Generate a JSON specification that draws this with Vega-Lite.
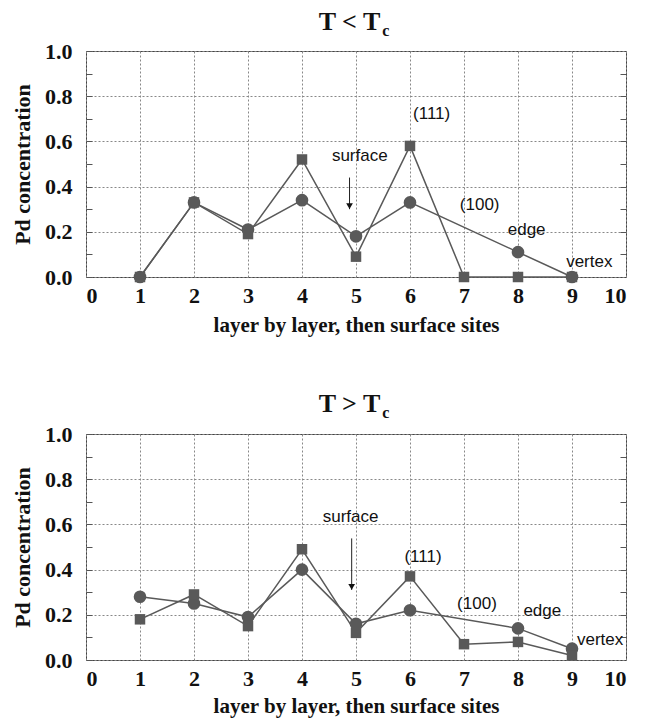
{
  "$schema": "https://vega.github.io/schema/vega-lite/v6.json",
  "background": "white",
  "padding": {"left": 11, "top": 8, "right": 5, "bottom": 5},
  "config": {
    "view": {"stroke": "#444", "strokeWidth": 1},
    "axis": {"domain": false}
  },
  "datasets": {
    "top": [
      {"series": "circle", "x": 1, "y": 0.0},
      {"series": "circle", "x": 2, "y": 0.33},
      {"series": "circle", "x": 3, "y": 0.21},
      {"series": "circle", "x": 4, "y": 0.34},
      {"series": "circle", "x": 5, "y": 0.18},
      {"series": "circle", "x": 6, "y": 0.33},
      {"series": "circle", "x": 8, "y": 0.11},
      {"series": "circle", "x": 9, "y": 0.0},
      {"series": "square", "x": 1, "y": 0.0},
      {"series": "square", "x": 2, "y": 0.33},
      {"series": "square", "x": 3, "y": 0.19},
      {"series": "square", "x": 4, "y": 0.52},
      {"series": "square", "x": 5, "y": 0.09},
      {"series": "square", "x": 6, "y": 0.58},
      {"series": "square", "x": 7, "y": 0.0},
      {"series": "square", "x": 8, "y": 0.0},
      {"series": "square", "x": 9, "y": 0.0}
    ],
    "bottom": [
      {"series": "circle", "x": 1, "y": 0.28},
      {"series": "circle", "x": 2, "y": 0.25},
      {"series": "circle", "x": 3, "y": 0.19},
      {"series": "circle", "x": 4, "y": 0.40},
      {"series": "circle", "x": 5, "y": 0.16},
      {"series": "circle", "x": 6, "y": 0.22},
      {"series": "circle", "x": 8, "y": 0.14},
      {"series": "circle", "x": 9, "y": 0.05},
      {"series": "square", "x": 1, "y": 0.18},
      {"series": "square", "x": 2, "y": 0.29},
      {"series": "square", "x": 3, "y": 0.15},
      {"series": "square", "x": 4, "y": 0.49},
      {"series": "square", "x": 5, "y": 0.12},
      {"series": "square", "x": 6, "y": 0.37},
      {"series": "square", "x": 7, "y": 0.07},
      {"series": "square", "x": 8, "y": 0.08},
      {"series": "square", "x": 9, "y": 0.02}
    ],
    "topNotes": [
      {"label": "(111)", "x": 6.4, "y": 0.72},
      {"label": "surface", "x": 5.07, "y": 0.535},
      {"label": "(100)", "x": 7.29, "y": 0.32},
      {"label": "edge", "x": 8.16, "y": 0.21},
      {"label": "vertex", "x": 9.32, "y": 0.066}
    ],
    "bottomNotes": [
      {"label": "surface", "x": 4.9, "y": 0.634},
      {"label": "(111)", "x": 6.24, "y": 0.457},
      {"label": "(100)", "x": 7.24, "y": 0.25},
      {"label": "edge", "x": 8.45, "y": 0.217},
      {"label": "vertex", "x": 9.52, "y": 0.088}
    ],
    "topArrow": [{"x": 4.88, "y": 0.44, "y2": 0.30}],
    "bottomArrow": [{"x": 4.92, "y": 0.538, "y2": 0.31}],
    "topTitle": [{"main": "T < T", "sub": "c", "x": 5.45, "y": 1.094, "ys": 1.066}],
    "bottomTitle": [{"main": "T > T", "sub": "c", "x": 5.45, "y": 1.099, "ys": 1.071}]
  },
  "spacing": 54,
  "vconcat": [
    {
      "width": 540,
      "height": 226,
      "resolve": {"axis": {"y": "independent"}},
      "layer": [
        {
          "data": {"name": "top"},
          "mark": {"type": "line", "color": "#595959", "strokeWidth": 1.5},
          "encoding": {
            "x": {"field": "x", "type": "quantitative", "scale": {"domain": [0, 10], "nice": false},
              "axis": {"values": [0,1,2,3,4,5,6,7,8,9,10], "ticks": false, "labelPadding": 8,
                "labelFont": "Liberation Serif", "labelFontWeight": "bold", "labelFontSize": 22, "labelColor": "#111",
                "grid": true, "gridColor": "#888", "gridDash": [2, 2], "gridWidth": 1,
                "title": "layer by layer, then surface sites", "titleFont": "Liberation Serif", "titleFontWeight": "bold", "titleFontSize": 21, "titleColor": "#111", "titlePadding": 8}},
            "y": {"field": "y", "type": "quantitative", "scale": {"domain": [0, 1], "nice": false},
              "axis": {"values": [0,0.1,0.2,0.3,0.4,0.5,0.6,0.7,0.8,0.9,1.0],
                "labelExpr": "round(datum.value*10) % 2 == 0 ? format(datum.value, '.1f') : ''",
                "labelFont": "Liberation Serif", "labelFontWeight": "bold", "labelFontSize": 22, "labelColor": "#111", "labelPadding": 20,
                "ticks": true, "tickSize": -6, "tickColor": "#555",
                "grid": true, "gridColor": "#888", "gridDash": [2, 2], "gridWidth": 1,
                "gridOpacity": {"condition": {"test": "round(datum.value*10) % 2 == 0", "value": 1}, "value": 0},
                "title": "Pd concentration", "titleFont": "Liberation Serif", "titleFontWeight": "bold", "titleFontSize": 22, "titleColor": "#111", "titlePadding": 10}},
            "detail": {"field": "series", "type": "nominal"},
            "order": {"field": "x", "type": "quantitative"}
          }
        },
        {
          "data": {"name": "top"},
          "mark": {"type": "point", "filled": true, "color": "#595959", "opacity": 1},
          "encoding": {
            "x": {"field": "x", "type": "quantitative"},
            "y": {"field": "y", "type": "quantitative",
              "axis": {"orient": "right", "values": [0.1,0.2,0.3,0.4,0.5,0.6,0.7,0.8,0.9], "labels": false, "grid": false, "title": null,
                "ticks": true, "tickSize": -6, "tickColor": "#555"}},
            "shape": {"field": "series", "type": "nominal", "scale": {"domain": ["circle", "square"], "range": ["circle", "square"]}, "legend": null},
            "size": {"field": "series", "type": "nominal", "scale": {"domain": ["circle", "square"], "range": [160, 110]}, "legend": null}
          }
        },
        {
          "data": {"name": "topNotes"},
          "mark": {"type": "text", "font": "Liberation Sans", "fontSize": 17, "color": "#111", "align": "center", "baseline": "middle"},
          "encoding": {
            "x": {"field": "x", "type": "quantitative"},
            "y": {"field": "y", "type": "quantitative", "axis": null},
            "text": {"field": "label"}
          }
        },
        {
          "data": {"name": "topArrow"},
          "mark": {"type": "rule", "color": "#222", "strokeWidth": 1},
          "encoding": {
            "x": {"field": "x", "type": "quantitative"},
            "y": {"field": "y", "type": "quantitative", "axis": null},
            "y2": {"field": "y2"}
          }
        },
        {
          "data": {"name": "topArrow"},
          "mark": {"type": "point", "shape": "triangle-down", "filled": true, "color": "#111", "size": 45, "opacity": 1, "yOffset": -3},
          "encoding": {
            "x": {"field": "x", "type": "quantitative"},
            "y": {"field": "y2", "type": "quantitative", "axis": null}
          }
        },
        {
          "data": {"name": "topTitle"},
          "mark": {"type": "text", "font": "Liberation Serif", "fontWeight": "bold", "fontSize": 26, "color": "#111", "align": "right", "baseline": "alphabetic"},
          "encoding": {
            "x": {"field": "x", "type": "quantitative"},
            "y": {"field": "y", "type": "quantitative", "axis": null},
            "text": {"field": "main"}
          }
        },
        {
          "data": {"name": "topTitle"},
          "mark": {"type": "text", "font": "Liberation Serif", "fontWeight": "bold", "fontSize": 16, "color": "#111", "align": "left", "baseline": "alphabetic", "dx": 2},
          "encoding": {
            "x": {"field": "x", "type": "quantitative"},
            "y": {"field": "ys", "type": "quantitative", "axis": null},
            "text": {"field": "sub"}
          }
        }
      ]
    },
    {
      "width": 540,
      "height": 226,
      "resolve": {"axis": {"y": "independent"}},
      "layer": [
        {
          "data": {"name": "bottom"},
          "mark": {"type": "line", "color": "#595959", "strokeWidth": 1.5},
          "encoding": {
            "x": {"field": "x", "type": "quantitative", "scale": {"domain": [0, 10], "nice": false},
              "axis": {"values": [0,1,2,3,4,5,6,7,8,9,10], "ticks": false, "labelPadding": 8,
                "labelFont": "Liberation Serif", "labelFontWeight": "bold", "labelFontSize": 22, "labelColor": "#111",
                "grid": true, "gridColor": "#888", "gridDash": [2, 2], "gridWidth": 1,
                "title": "layer by layer, then surface sites", "titleFont": "Liberation Serif", "titleFontWeight": "bold", "titleFontSize": 21, "titleColor": "#111", "titlePadding": 6}},
            "y": {"field": "y", "type": "quantitative", "scale": {"domain": [0, 1], "nice": false},
              "axis": {"values": [0,0.1,0.2,0.3,0.4,0.5,0.6,0.7,0.8,0.9,1.0],
                "labelExpr": "round(datum.value*10) % 2 == 0 ? format(datum.value, '.1f') : ''",
                "labelFont": "Liberation Serif", "labelFontWeight": "bold", "labelFontSize": 22, "labelColor": "#111", "labelPadding": 20,
                "ticks": true, "tickSize": -6, "tickColor": "#555",
                "grid": true, "gridColor": "#888", "gridDash": [2, 2], "gridWidth": 1,
                "gridOpacity": {"condition": {"test": "round(datum.value*10) % 2 == 0", "value": 1}, "value": 0},
                "title": "Pd concentration", "titleFont": "Liberation Serif", "titleFontWeight": "bold", "titleFontSize": 22, "titleColor": "#111", "titlePadding": 10}},
            "detail": {"field": "series", "type": "nominal"},
            "order": {"field": "x", "type": "quantitative"}
          }
        },
        {
          "data": {"name": "bottom"},
          "mark": {"type": "point", "filled": true, "color": "#595959", "opacity": 1},
          "encoding": {
            "x": {"field": "x", "type": "quantitative"},
            "y": {"field": "y", "type": "quantitative",
              "axis": {"orient": "right", "values": [0.1,0.2,0.3,0.4,0.5,0.6,0.7,0.8,0.9], "labels": false, "grid": false, "title": null,
                "ticks": true, "tickSize": -6, "tickColor": "#555"}},
            "shape": {"field": "series", "type": "nominal", "scale": {"domain": ["circle", "square"], "range": ["circle", "square"]}, "legend": null},
            "size": {"field": "series", "type": "nominal", "scale": {"domain": ["circle", "square"], "range": [160, 110]}, "legend": null}
          }
        },
        {
          "data": {"name": "bottomNotes"},
          "mark": {"type": "text", "font": "Liberation Sans", "fontSize": 17, "color": "#111", "align": "center", "baseline": "middle"},
          "encoding": {
            "x": {"field": "x", "type": "quantitative"},
            "y": {"field": "y", "type": "quantitative", "axis": null},
            "text": {"field": "label"}
          }
        },
        {
          "data": {"name": "bottomArrow"},
          "mark": {"type": "rule", "color": "#222", "strokeWidth": 1},
          "encoding": {
            "x": {"field": "x", "type": "quantitative"},
            "y": {"field": "y", "type": "quantitative", "axis": null},
            "y2": {"field": "y2"}
          }
        },
        {
          "data": {"name": "bottomArrow"},
          "mark": {"type": "point", "shape": "triangle-down", "filled": true, "color": "#111", "size": 45, "opacity": 1, "yOffset": -3},
          "encoding": {
            "x": {"field": "x", "type": "quantitative"},
            "y": {"field": "y2", "type": "quantitative", "axis": null}
          }
        },
        {
          "data": {"name": "bottomTitle"},
          "mark": {"type": "text", "font": "Liberation Serif", "fontWeight": "bold", "fontSize": 26, "color": "#111", "align": "right", "baseline": "alphabetic"},
          "encoding": {
            "x": {"field": "x", "type": "quantitative"},
            "y": {"field": "y", "type": "quantitative", "axis": null},
            "text": {"field": "main"}
          }
        },
        {
          "data": {"name": "bottomTitle"},
          "mark": {"type": "text", "font": "Liberation Serif", "fontWeight": "bold", "fontSize": 16, "color": "#111", "align": "left", "baseline": "alphabetic", "dx": 2},
          "encoding": {
            "x": {"field": "x", "type": "quantitative"},
            "y": {"field": "ys", "type": "quantitative", "axis": null},
            "text": {"field": "sub"}
          }
        }
      ]
    }
  ]
}
